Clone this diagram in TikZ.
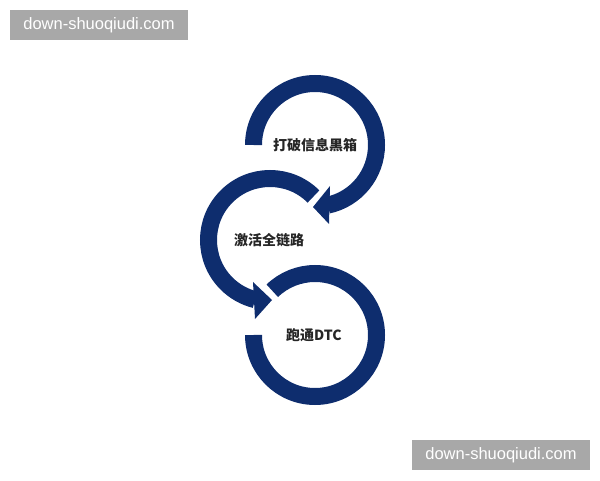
\documentclass[tikz,border=0pt]{standalone}
\usepackage{fontspec}
\setmainfont{Liberation Sans}
\newfontfamily\cjk{Noto Sans CJK SC}
\usetikzlibrary{positioning}

\definecolor{ringblue}{RGB}{14,45,110}
\definecolor{markgray}{RGB}{168,168,168}

\tikzset{
  ring/.style={draw=ringblue, line width=17pt},
  ringhead/.style={fill=ringblue},
  ringtext/.style={font=\cjk\bfseries\fontsize{14}{14}\selectfont, text=black!85},
  wmbox/.style={fill=markgray, text=white, minimum width=178pt, minimum height=30pt,
    inner sep=0pt, font=\fontsize{16.5}{16.5}\selectfont}
}

\begin{document}
\begin{tikzpicture}[x=1pt,y=1pt]
  \useasboundingbox (0,0) rectangle (600,480);

  %% centres of the three rings
  \coordinate (TopC) at (315,335);
  \coordinate (MidC) at (270,240);
  \coordinate (LowC) at (315,145);

  %% top ring, clockwise
  \draw[ring] ([shift={(180:61.5pt)}]TopC) arc[start angle=180, end angle=-78, radius=61.5pt];
  \fill[ringhead] ([shift={(15pt,-41pt)}]TopC) -- ([shift={(-2pt,-62pt)}]TopC)
    -- ([shift={(14pt,-79pt)}]TopC) -- cycle;

  %% middle ring, counter-clockwise
  \draw[ring] ([shift={(45:61.5pt)}]MidC) arc[start angle=45, end angle=256, radius=61.5pt];
  \fill[ringhead] ([shift={(-17pt,-42pt)}]MidC) -- ([shift={(2pt,-60pt)}]MidC)
    -- ([shift={(-15pt,-79pt)}]MidC) -- cycle;

  %% bottom ring
  \draw[ring] ([shift={(180:61.5pt)}]LowC) arc[start angle=180, end angle=494, radius=61.5pt];

  \node (Break) [ringtext] at (TopC) {打破信息黑箱};
  \node (Activate) [ringtext] at ([xshift=-1pt]MidC) {激活全链路};
  \node (Run) [ringtext] at ([xshift=-1pt]LowC) {跑通DTC};

  \node (MarkTop) [wmbox] at (99,455) {down-shuoqiudi.com};
  \node (MarkLow) [wmbox] at (501,25) {down-shuoqiudi.com};
\end{tikzpicture}
\end{document}
